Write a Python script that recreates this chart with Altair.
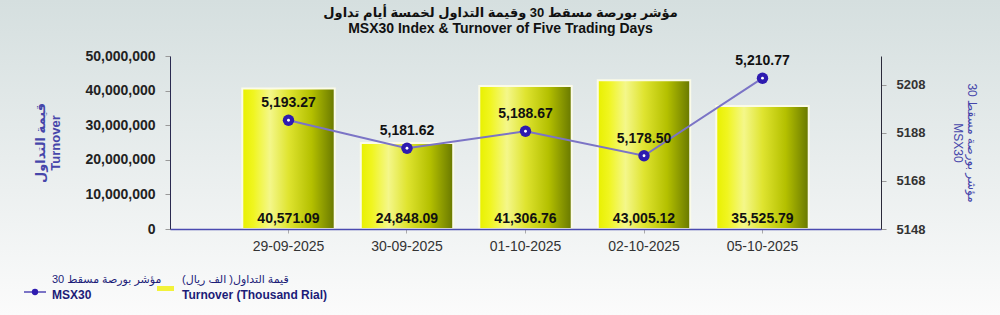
import altair as alt
import pandas as pd

dates = ["29-09-2025", "30-09-2025", "01-10-2025", "02-10-2025", "05-10-2025"]
turnover_k = [40571.09, 24848.09, 41306.76, 43005.12, 35525.79]   # thousand rial
msx30 = [5193.27, 5181.62, 5188.67, 5178.50, 5210.77]

left_ticks = [0, 10000000, 20000000, 30000000, 40000000, 50000000]
right_ticks = [5148, 5168, 5188, 5208]

FONT = "Liberation Sans, Arial, DejaVu Sans, sans-serif"
LINE_C = "#7b74c6"
PT_C = "#2e1bb0"
AX_TITLE_C = "#4646aa"

df = pd.DataFrame({"date": dates, "turn": turnover_k, "idx": msx30})
one = pd.DataFrame({"k": [0]})

bar_grad = alt.LinearGradient(
    gradient="linear", x1=0, x2=1, y1=0, y2=0,
    stops=[
        alt.GradientStop(offset=0.0, color="#e8f000"),
        alt.GradientStop(offset=0.12, color="#f0f520"),
        alt.GradientStop(offset=0.3, color="#f4f78a"),
        alt.GradientStop(offset=0.5, color="#dfe430"),
        alt.GradientStop(offset=0.75, color="#b4c000"),
        alt.GradientStop(offset=1.0, color="#687800"),
    ],
)
bg_grad = alt.LinearGradient(
    gradient="linear", x1=0, x2=0, y1=0, y2=1,
    stops=[
        alt.GradientStop(offset=0.0, color="#d5dfdf"),
        alt.GradientStop(offset=1.0, color="#fbfbfb"),
    ],
)

x_enc = alt.X(
    "date:N", sort=dates, title=None,
    scale=alt.Scale(paddingInner=0.22, paddingOuter=0.61),
    axis=alt.Axis(labelAngle=0, labelFontSize=14, labelColor="#333333",
                  labelFont=FONT, labelPadding=6, domainColor="#4a4ab0",
                  domainWidth=1.5, tickColor="#aaaaaa", tickSize=4, zindex=1),
)

left_axis = alt.Axis(values=left_ticks, format=",d", orient="left",
                     title=["قيمة التداول", "Turnover"],
                     titleColor=AX_TITLE_C, titleFontSize=13,
                     titleFont=FONT, titleFontWeight="bold",
                     titlePadding=22, labelFontSize=14,
                     labelFontWeight="bold", labelColor="#222222",
                     labelFont=FONT, labelPadding=10,
                     domainColor="#2a2a50",
                     tickColor="#999999", tickSize=5, grid=False,
                     labelOverlap=False, labelFlush=False, zindex=1)
left_scale = alt.Scale(domain=[0, 50000000], nice=False)

background = alt.Chart(one).mark_rect(fill=bg_grad).encode(
    x=alt.value(-170), x2=alt.value(830), y=alt.value(-56), y2=alt.value(259)
)

bars = alt.Chart(df).transform_calculate(rial="datum.turn * 1000").mark_bar(
    fill=bar_grad, stroke="#fbfbe8", strokeWidth=2
).encode(
    x=x_enc,
    y=alt.Y("rial:Q", scale=left_scale, axis=left_axis),
)

bar_text = alt.Chart(df).transform_calculate(rial="datum.turn * 0").mark_text(
    font=FONT, fontSize=14, fontWeight="bold", color="#111111",
    baseline="middle", dy=-10
).encode(
    x=alt.X("date:N", sort=dates),
    y=alt.Y("rial:Q", scale=left_scale, axis=left_axis),
    text=alt.Text("turn:Q", format=",.2f"),
)

left = alt.layer(bars, bar_text)

line = alt.Chart(df).mark_line(color=LINE_C, strokeWidth=2).encode(
    x=alt.X("date:N", sort=dates),
    y=alt.Y("idx:Q", scale=alt.Scale(domain=[5148, 5220], nice=False, zero=False),
            axis=alt.Axis(values=right_ticks, format="d", orient="right",
                          title=["مؤشر بورصة مسقط 30", "MSX30"],
                          titleColor=AX_TITLE_C, titleFontSize=12,
                          titleFont=FONT, titleFontWeight="normal",
                          titlePadding=26, labelFontSize=13,
                          labelFontWeight="bold", labelColor="#333333",
                          labelFont=FONT, labelPadding=10, domainColor="#2a2a3a",
                          tickColor="#999999", tickSize=5, grid=False,
                          labelOverlap=False, labelFlush=False, zindex=1)),
)
pts = alt.Chart(df).mark_point(filled=True, color=PT_C, size=130, opacity=1).encode(
    x=alt.X("date:N", sort=dates), y="idx:Q"
)
dots = alt.Chart(df).mark_point(filled=True, color="#ffffff", size=8, opacity=1).encode(
    x=alt.X("date:N", sort=dates), y="idx:Q"
)
idx_text = alt.Chart(df).mark_text(
    font=FONT, fontSize=14, fontWeight="bold", color="#111111",
    baseline="middle", dy=-17
).encode(
    x=alt.X("date:N", sort=dates), y="idx:Q",
    text=alt.Text("idx:Q", format=",.2f"),
)
right = alt.layer(line, pts, dots, idx_text)

# custom legend (bottom-left)
LEG_C = "#1c1c78"
leg_rule = alt.Chart(one).mark_rule(color=LINE_C, strokeWidth=2).encode(
    x=alt.value(-146), x2=alt.value(-124), y=alt.value(236)
)
leg_pt = alt.Chart(one).mark_point(filled=True, color=PT_C, size=40, opacity=1).encode(
    x=alt.value(-135), y=alt.value(236)
)
leg_t1 = alt.Chart(one).mark_text(align="left", baseline="middle", font=FONT,
                                   fontSize=11, color=LEG_C).encode(
    x=alt.value(-118), y=alt.value(224), text=alt.value("مؤشر بورصة مسقط 30"))
leg_t2 = alt.Chart(one).mark_text(align="left", baseline="middle", font=FONT,
                                   fontSize=12, fontWeight="bold", color=LEG_C).encode(
    x=alt.value(-118), y=alt.value(239), text=alt.value("MSX30"))
leg_rect = alt.Chart(one).mark_rect(color="#f2f23a").encode(
    x=alt.value(-13), x2=alt.value(4), y=alt.value(230), y2=alt.value(235))
leg_t3 = alt.Chart(one).mark_text(align="left", baseline="middle", font=FONT,
                                   fontSize=11, color=LEG_C).encode(
    x=alt.value(12), y=alt.value(224), text=alt.value("قيمة التداول( الف ريال)"))
leg_t4 = alt.Chart(one).mark_text(align="left", baseline="middle", font=FONT,
                                   fontSize=12, fontWeight="bold", color=LEG_C).encode(
    x=alt.value(12), y=alt.value(239), text=alt.value("Turnover (Thousand Rial)"))

chart = alt.layer(
    background, left, right,
    leg_rule, leg_pt, leg_t1, leg_t2, leg_rect, leg_t3, leg_t4
).resolve_scale(y="independent").properties(
    width=711, height=173,
    autosize=alt.AutoSizeParams(type="none"),
    padding={"left": 170, "top": 56, "right": 119, "bottom": 86},
    background="#eef2f2",
    title=alt.Title(
        text="مؤشر بورصة مسقط 30 وقيمة التداول لخمسة أيام تداول",
        subtitle="MSX30 Index & Turnover of Five Trading Days",
        font=FONT, fontSize=13, fontWeight="bold", color="#111111",
        subtitleFont=FONT, subtitleFontSize=14, subtitleFontWeight="bold",
        subtitleColor="#111111", subtitlePadding=2,
        anchor="middle", dx=-25, offset=-36, frame="group",
    ),
).configure_view(stroke=None)

chart.save("out.html", embed_options={"renderer": "svg", "actions": False})
